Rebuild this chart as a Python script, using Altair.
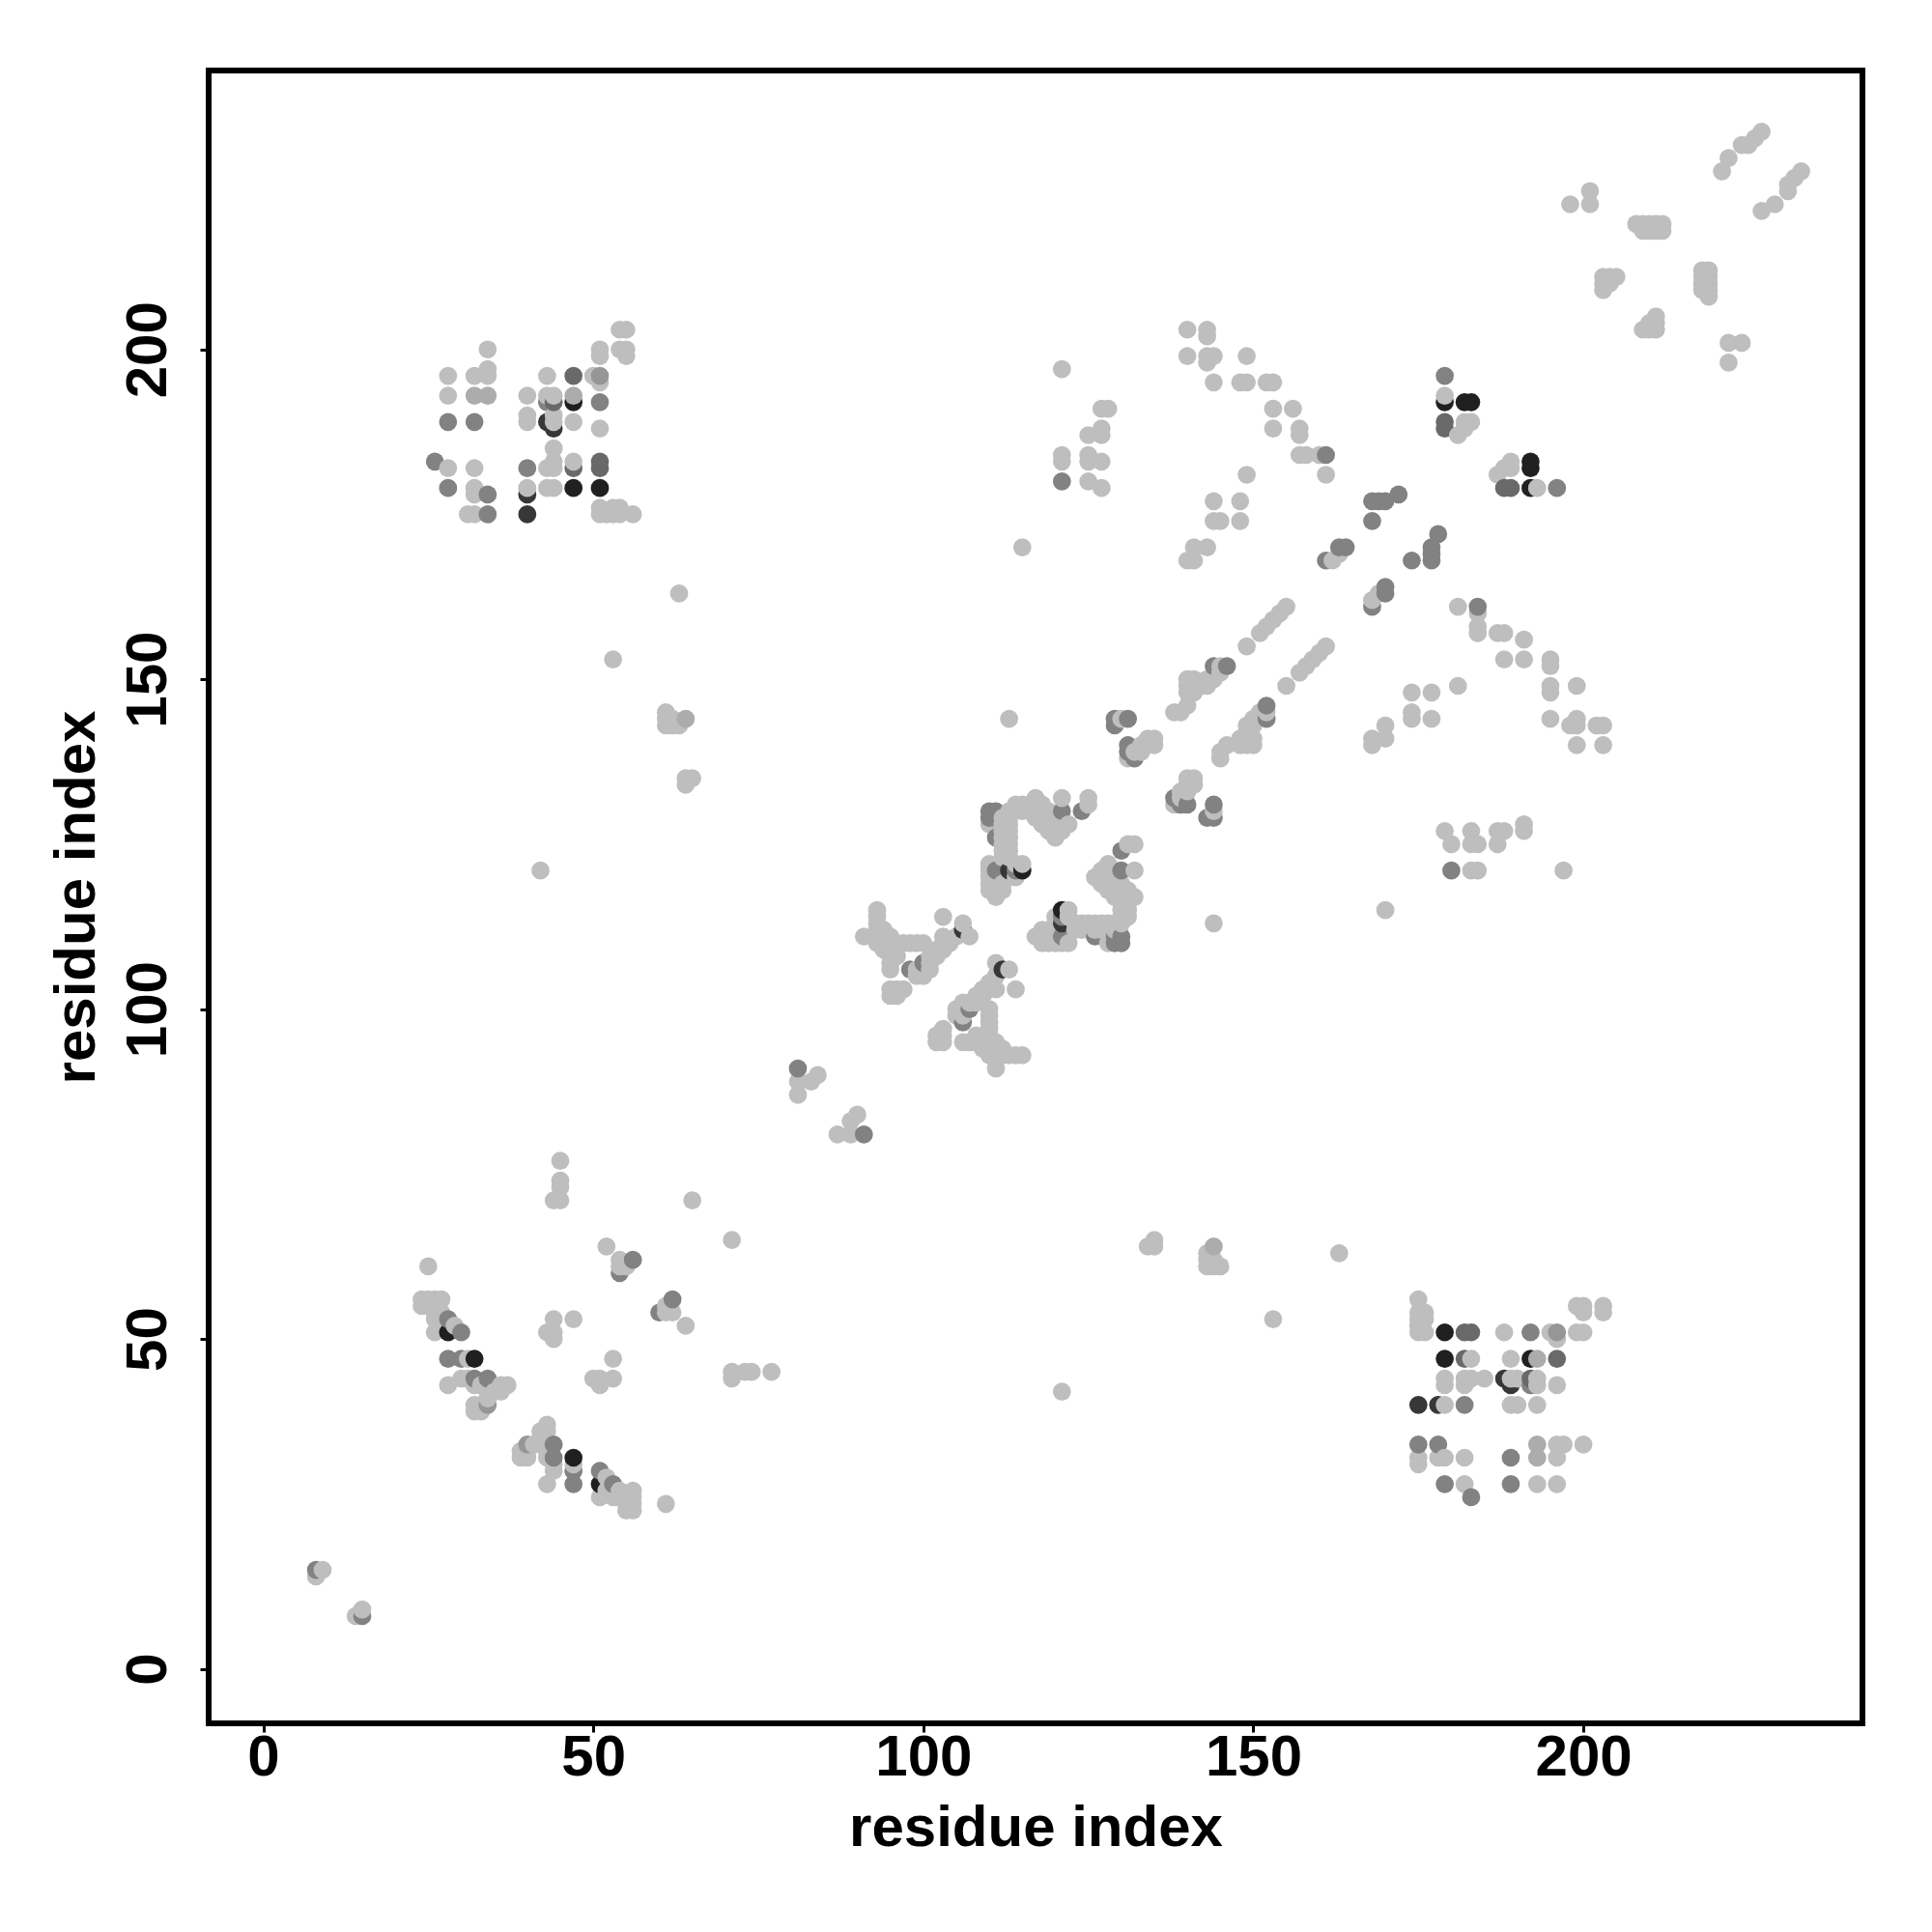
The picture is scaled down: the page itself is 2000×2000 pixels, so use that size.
import altair as alt
import pandas as pd

# residue contacts (i < j), grouped by grey level; each contact is drawn at (i, j) and (j, i)
grey_190 = [
    # block 1
    (28,196),(28,193),(28,182),(32,196),(32,182),(32,179),(32,178),(31,175),(32,175),(34,200),(34,197),(34,196),
    (40,193),(40,190),(40,189),(40,179),(43,196),(43,193),(44,193),(44,190),(44,189),(44,185),(44,183),(43,182),
    (44,182),(43,179),(44,179),(47,189),(47,183),(50,196),(51,195),(51,188),(51,200),(51,199),(51,176),(51,175),
    (52,175),(53,176),(53,175),(54,176),(54,175),(56,175),(54,203),(55,203),(54,200),(55,200),(55,199),
    # hairpin
    (25,61),(24,56),(25,56),(26,56),(27,56),(24,55),(25,55),(26,55),(26,54),(27,54),(26,53),(27,52),(29,52),(26,51),
    (31,47),(28,43),(30,44),(31,44),(32,43),(33,43),(34,43),(36,43),(37,43),(34,42),(35,42),(36,42),(34,41),
    (32,40),(33,40),(32,39),(33,39),
    (44,71),(45,71),(45,73),(45,74),(45,77),(65,71),(52,64),(54,61),(55,61),(54,62),
    (44,53),(47,53),(43,51),(44,51),(44,50),
    (8,14),(9,15),
    (42,121),(63,163),(53,153),(61,145),(61,144),(61,143),(62,144),(62,143),(63,143),
    (64,135),(65,135),(64,134),
    (81,87),(83,89),(84,90),(87,81),(89,81),(89,83),(90,84),
    # helix region, 91-115
    (93,115),(93,114),(93,113),(93,112),(94,112),(91,111),(93,111),(94,111),(95,111),(93,110),(94,110),(95,110),
    (96,110),(97,110),(98,110),(99,110),(100,110),(94,109),(95,109),(95,108),(96,108),(95,107),(95,106),(95,103),
    (96,103),(97,103),(95,102),(96,102),(99,106),(99,105),(100,106),(101,107),(101,108),(102,108),(102,109),
    (103,109),(103,110),(104,110),(103,111),(105,111),(103,114),(106,113),(107,111),(100,105),(101,106),
    (110,118),(110,119),(110,120),(110,121),(110,122),(111,117),(111,118),(111,119),(112,118),(112,119),
    (113,120),(114,120),(114,122),(115,122),(110,128),
    (113,130),(114,131),(115,131),(114,130),(115,130),(116,130),(116,131),(117,132),(117,131),(117,130),(118,131),
    (118,130),(119,130),(117,129),(118,129),(119,129),(118,128),(119,127),(120,128),(120,127),(120,126),(121,127),
    (122,128),(121,132),(125,132),(125,131),(112,129),(112,128),(113,129),(113,128),(113,127),(113,126),(113,125),
    (113,124),(113,123),(112,127),(112,126),(112,125),(112,124),(112,123),(121,128),(120,129),(119,128),(121,129),
    (122,115),(113,144),
    # bands near the diagonal
    (131,138),(132,139),(133,139),(133,140),(134,140),(135,140),(134,141),(135,141),(130,144),
    (138,145),(139,145),(140,146),(140,148),(140,149),(140,150),(141,148),(141,149),(141,150),(142,149),
    (143,149),(143,150),(144,150),(145,151),(145,152),
    (149,155),(151,157),(152,158),(153,159),(154,160),(155,161),(162,168),(163,169),(179,193),(183,189),(182,188),
    (181,187),(182,189),
    # far contacts
    (121,197),(127,191),(128,191),(127,188),(125,187),(127,187),(121,184),(121,183),(125,184),(125,183),(127,183),
    (125,180),(127,179),(140,203),(143,203),(143,202),(140,199),(143,199),(144,199),(143,198),(149,199),(144,195),
    (148,195),(149,195),(152,195),(153,195),(153,191),(156,191),(153,188),(157,188),(157,187),(157,184),(158,184),
    (160,184),(161,181),(149,181),(144,177),(148,177),(144,174),(145,174),(148,174),(141,170),(143,170),(140,168),
    (141,168),(115,170),
    (198,222),(201,224),(201,222),(208,219),(209,219),(210,219),(211,219),(212,219),(209,218),(210,218),(211,218),
    (212,218),(203,209),(203,210),(203,211),(204,210),(204,211),(205,211),(221,227),(222,229),(224,231),(225,231),
    (226,232),(227,233),
]
grey_172 = [(32,193),(34,193),(47,193),(40,34),(64,144)]
grey_150 = [(51,196),(34,40)]
grey_130 = [
    (28,189),(26,183),(28,179),(32,189),(34,178),(34,175),(40,182),(43,192),(51,192),
    (28,53),(30,51),(28,47),(30,47),(32,44),(34,44),(47,28),(47,30),
    (54,60),(56,62),(8,15),(81,91),
    (98,106),(100,107),(111,121),(111,126),(110,130),(111,130),(110,129),(111,129),(121,130),(124,130),(114,121),
    (129,144),(131,144),(129,143),(131,140),(131,139),(132,138),(144,152),(146,152),
    (161,184),(168,177),(169,177),(170,177),(172,178),(168,174),(163,170),(164,170),(161,168),(179,196),(121,180),
]
grey_105 = [(47,196),(44,192),(51,183),(51,182),(47,182),(179,189),(179,188)]
grey_55 = [(40,178),(40,175),(43,189),(44,188),(106,112),(113,121)]
grey_32 = [(47,192),(47,179),(51,179),(32,47),(28,51),(115,121),(179,192),(182,192),(183,192)]

tick_values = [0, 50, 100, 150, 200]
axis_title = "residue index"

levels = [(grey_190, 190), (grey_172, 172), (grey_150, 150), (grey_130, 130),
          (grey_105, 105), (grey_55, 55), (grey_32, 32)]
seen = {}
for pairs, g in levels:
    for a, b in pairs:
        seen[(a, b)] = g
        seen[(b, a)] = g
rows = [{"x": a, "y": b, "c": f"rgb({g},{g},{g})"} for (a, b), g in sorted(seen.items())]
df = pd.DataFrame(rows)

font = "Liberation Sans"
dom = [-8.27, 242.28]


def ax(title, **kw):
    return alt.Axis(values=tick_values, title=title, grid=False, domain=False, ticks=True,
                    tickColor="black", tickWidth=3, tickSize=9, labelColor="black", titleColor="black",
                    labelFont=font, titleFont=font, labelFontSize=60, titleFontSize=60,
                    labelFontWeight="bold", titleFontWeight="bold", labelOverlap=False, labelFlush=False, **kw)


chart = (
    alt.Chart(df)
    .mark_circle(size=350, opacity=1)
    .encode(
        x=alt.X("x:Q", scale=alt.Scale(domain=dom, nice=False, zero=False), axis=ax(axis_title, labelPadding=-3, titlePadding=14)),
        y=alt.Y("y:Q", scale=alt.Scale(domain=dom, nice=False, zero=False),
                axis=ax(axis_title, labelAngle=270, labelAlign="center", labelBaseline="bottom", labelPadding=23, titlePadding=13)),
        color=alt.Color("c:N", scale=None),
    )
    .properties(
        width=1712, height=1711,
        autosize=alt.AutoSizeParams(type="none"),
        padding={"left": 208, "top": 65, "right": 60, "bottom": 200},
        background="white",
    )
    .configure_view(stroke="black", strokeWidth=6)
)

chart.save("out.html", embed_options={"renderer": "svg", "actions": False})
